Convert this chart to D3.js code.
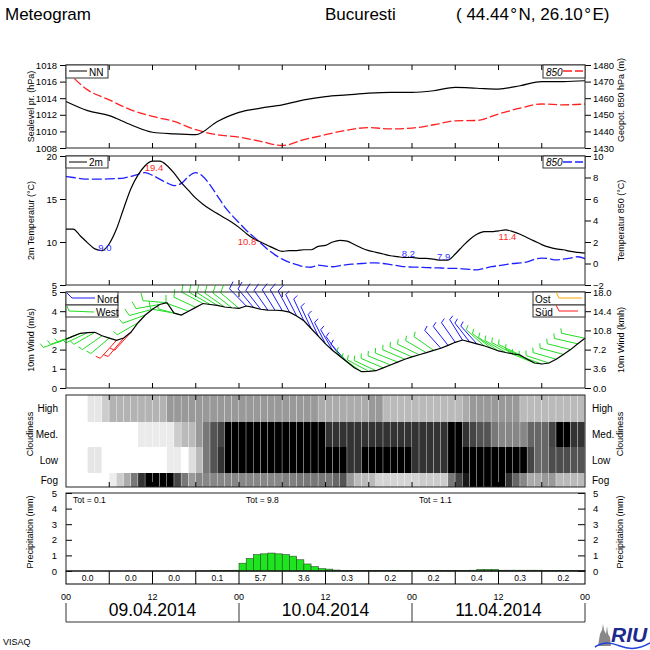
<!DOCTYPE html>
<html><head><meta charset="utf-8">
<script src="https://cdn.jsdelivr.net/npm/d3@7"></script>
<style>
body{margin:0;background:#fff}
svg{display:block}
text{font-family:"Liberation Sans",Arial,Helvetica,sans-serif;fill:#000}
</style>
</head><body>
<svg id="c" width="650" height="650"></svg>
<script>
// ---------------- DATA ----------------
const hours3 = d3.range(0, 73, 3);
const mslp = [1013.6,1012.5,1011.9,1010.8,1009.9,1009.7,1009.6,1011.2,1012.3,1012.8,1013.2,1013.8,1014.2,1014.4,1014.6,1014.7,1014.7,1014.9,1015.3,1015.2,1015.1,1015.5,1016.0,1016.0,1016.1];
const geo850 = [1477,1465,1459,1453,1449,1446,1441,1438,1436.5,1434,1431.5,1435,1438,1440.8,1442.3,1441.5,1442,1444,1446.4,1446.6,1450.5,1454,1456.5,1456,1456.5];

const hours = d3.range(0, 73);
const t2m = [11.5,11.5,10.7,9.9,9.2,9.0,9.8,11.5,13.9,16.2,17.8,18.9,19.4,19.4,18.9,18.0,16.9,16.0,15.1,14.4,13.8,13.3,12.8,12.3,11.7,11.0,10.4,10.0,9.6,9.2,8.9,9.0,9.0,9.1,9.1,9.5,9.6,10.0,10.2,10.1,9.7,9.3,9.0,8.8,8.6,8.4,8.3,8.2,8.2,8.1,8.1,8.0,7.9,7.9,8.6,9.5,10.3,10.9,11.2,11.2,11.3,11.4,11.2,10.9,10.5,10.1,9.7,9.4,9.2,9.1,8.9,8.8,8.7];
const t850 = [8.1,8.0,7.9,7.85,7.85,7.85,7.87,7.9,7.95,8.1,8.3,8.45,8.2,7.85,7.5,7.25,7.45,8.1,8.45,8.1,7.3,6.3,5.3,4.5,3.8,3.1,2.5,1.9,1.3,0.8,0.4,0.1,-0.1,-0.3,-0.35,-0.15,-0.25,-0.3,-0.2,-0.1,-0.05,0.0,0.05,0.05,0.0,-0.1,-0.2,-0.3,-0.33,-0.35,-0.38,-0.4,-0.42,-0.45,-0.45,-0.5,-0.55,-0.6,-0.45,-0.3,-0.2,-0.1,0.0,0.05,0.15,0.4,0.5,0.45,0.33,0.4,0.5,0.63,0.45];

const tLabelHours = [5.4, 12.2, 25.1, 47.5, 52.4, 61.25];
const tLabelValues = [9.0, 19.4, 10.8, 8.2, 7.9, 11.4];
const tLabelKinds = ["min","max","max","min","min","max"];

const windSpeed = [2.54,2.7,2.85,2.88,2.9,2.72,2.6,2.48,2.6,2.9,3.4,3.8,4.1,4.35,4.44,3.9,3.8,4.0,4.2,4.4,4.35,4.3,4.22,4.18,4.15,4.27,4.2,4.1,4.06,4.05,4.03,3.95,3.75,3.5,3.1,2.7,2.3,1.95,1.65,1.35,1.05,0.85,0.87,0.9,1.05,1.2,1.35,1.5,1.62,1.73,1.84,1.96,2.07,2.22,2.38,2.5,2.4,2.3,2.2,2.07,1.93,1.85,1.78,1.72,1.5,1.3,1.25,1.3,1.5,1.75,2.0,2.3,2.59];
const windDir = [250,250,248,245,240,235,230,222,220,222,240,250,255,260,275,280,285,290,295,298,300,302,305,308,310,316,320,322,325,328,330,332,333,335,335,335,333,330,325,318,312,305,298,295,293,292,292,293,294,296,300,305,318,322,325,328,322,318,312,308,304,300,298,296,295,292,290,288,286,285,284,283,282];

const cloudRows = ["High","Med.","Low","Fog"];
const cloudHigh = [0,0,0,0.1,0.1,0.2,0.3,0.3,0.3,0.3,0.3,0.3,0.3,0.3,0.4,0.4,0.4,0.4,0.4,0.4,0.4,0.4,0.4,0.4,0.4,0.4,0.4,0.4,0.4,0.4,0.4,0.4,0.4,0.4,0.4,0.33,0.33,0.33,0.33,0.33,0.33,0.33,0.4,0.4,0.27,0.27,0.27,0.27,0.27,0.27,0.27,0.27,0.27,0.27,0.27,0.33,0.4,0.4,0.4,0.4,0.4,0.4,0.4,0.27,0.27,0.27,0.27,0.27,0.27,0.27,0.27,0.27];
const cloudMed = [0,0,0,0,0,0,0,0,0,0,0.08,0.08,0.08,0.08,0.08,0.2,0.27,0.27,0.4,0.53,0.67,0.73,1,1,1,1,1,1,1,1,1,1,1,1,1,1,0.8,0.8,0.8,0.8,0.8,0.8,0.8,0.8,0.8,0.8,0.8,0.8,0.8,0.8,0.8,0.8,0.8,1,1,0.8,0.73,0.67,0.67,0.53,0.47,0.47,0.47,0.47,0.6,0.6,0.6,0.73,1,1,0.8,0.8];
const cloudLow = [0,0,0,0.1,0.1,0,0,0,0,0,0,0,0,0,0.08,0.08,0,0.13,0.27,0.53,0.67,0.8,1,1,1,1,1,1,1,1,1,1,1,1,1,1,1,1,1,0.8,0.8,1,1,1,1,1,1,1,0.8,0.8,0.8,0.8,0.8,1,1,1,1,1,1,1,1,1,1,1,0.73,0.6,0.6,0.7,0.7,0.7,0.67,0.67];
const cloudFog = [0,0,0,0,0,0,0.07,0.2,0.33,0.53,0.8,1,1,1,1,0.73,0.53,0.4,0.47,0.47,0.47,0.47,0.47,0.47,0.47,0.47,0.47,0.47,0.47,0.47,0.5,0.5,0.53,0.53,0.53,0.53,0.53,0.6,0.67,0.4,0.27,0.27,0.27,0.17,0.17,0.17,0.17,0.17,0.17,0.2,0.2,0.2,0.2,0.53,0.73,0.9,1,1,1,1,1,0.8,0.6,0.47,0.33,0.33,0.4,0.4,0.27,0.27,0.27,0.27];

const precip = [0,0,0,0,0,0,0,0,0,0,0,0,0,0,0,0,0,0,0.01,0.01,0.02,0.02,0.02,0.05,0.5,0.8,1.05,1.1,1.15,1.1,1.05,0.95,0.72,0.45,0.28,0.15,0.12,0.06,0.04,0.03,0.03,0.02,0.03,0.03,0.03,0.03,0.03,0.03,0.03,0.03,0.03,0.03,0.03,0.03,0.02,0.03,0.05,0.1,0.1,0.1,0.05,0.05,0.05,0.05,0.05,0.05,0.03,0.03,0.03,0.03,0.03,0.03];
const sixHourSums = ["0.0","0.0","0.0","0.1","5.7","3.6","0.3","0.2","0.2","0.4","0.3","0.2"];
const dayTotals = ["0.1","9.8","1.1"];
const hourLabels = ["00","12","00","12","00","12","00"];
const dateLabels = ["09.04.2014","10.04.2014","11.04.2014"];

// ---------------- LAYOUT ----------------
const svg = d3.select("#c");
const X0 = 66, X1 = 585;
const x = d3.scaleLinear().domain([0,72]).range([X0, X1]);
const P = {
  pres:{top:65,bot:148}, temp:{top:156,bot:285}, wind:{top:292,bot:388},
  cloud:{top:395,bot:487}, prec:{top:493,bot:571}
};
const FONT = "'Liberation Sans',Arial,sans-serif";
svg.append("rect").attr("width",650).attr("height",650).attr("fill","#fff");

// Title
svg.append("text").attr("x",5).attr("y",20).attr("font-size",17).text("Meteogram");
svg.append("text").attr("x",325).attr("y",20).attr("font-size",17).text("Bucuresti");
svg.append("text").attr("x",456).attr("y",20).attr("font-size",17).text("( 44.44\u200a°\u200aN, 26.10\u200a°\u200aE)");

// ---------- Cloudiness cells (drawn first) ----------
const cloudBands = [[395,422],[422,447],[447,473],[473,487]];
const cloudData = [cloudHigh, cloudMed, cloudLow, cloudFog];
const cellW = x(1)-x(0);
cloudData.forEach((row,ri)=>{
  svg.append("g").selectAll("rect").data(row).join("rect")
    .attr("x",(d,i)=>x(i)).attr("width",cellW-0.4)
    .attr("y",cloudBands[ri][0]).attr("height",cloudBands[ri][1]-cloudBands[ri][0])
    .attr("fill",d=>{const g=Math.round(255*(1-d)); return `rgb(${g},${g},${g})`;});
});

// ---------- scales ----------
const yP = d3.scaleLinear().domain([1008,1018]).range([P.pres.bot,P.pres.top]);
const yG = d3.scaleLinear().domain([1430,1480]).range([P.pres.bot,P.pres.top]);
const yT = d3.scaleLinear().domain([5,20]).range([P.temp.bot,P.temp.top]);
const yT8 = d3.scaleLinear().domain([-2,10]).range([P.temp.bot,P.temp.top]);
const yW = d3.scaleLinear().domain([0,5]).range([P.wind.bot,P.wind.top]);
const yWk = d3.scaleLinear().domain([0,18]).range([P.wind.bot,P.wind.top]);
const yR = d3.scaleLinear().domain([0,5]).range([P.prec.bot,P.prec.top]);

function axisStyle(g){
  g.select(".domain").remove();
  g.selectAll("text").attr("font-size",9.5).attr("font-family",FONT).attr("fill","#000");
  g.selectAll("line").attr("stroke","#000");
}
function leftAxis(scale, vals, fmt, inside){
  const a = d3.axisLeft(scale).tickValues(vals).tickFormat(fmt||d3.format("d"));
  if(inside) a.tickSize(-6).tickPadding(9); else a.tickSize(6).tickPadding(3);
  svg.append("g").attr("transform",`translate(${X0},0)`).call(a).call(axisStyle);
}
function rightAxis(scale, vals, fmt, inside){
  const a = d3.axisRight(scale).tickValues(vals).tickFormat(fmt||d3.format("d"));
  if(inside) a.tickSize(-7).tickPadding(8); else a.tickSize(6).tickPadding(2);
  svg.append("g").attr("transform",`translate(${X1},0)`).call(a).call(axisStyle);
}
leftAxis(yP,[1008,1010,1012,1014,1016,1018]);
rightAxis(yG,[1430,1440,1450,1460,1470,1480]);
leftAxis(yT,[5,10,15,20]);
rightAxis(yT8,[-2,0,2,4,6,8,10]);
leftAxis(yW,[0,1,2,3,4,5]);
rightAxis(yWk,[0,3.6,7.2,10.8,14.4,18],d3.format(".1f"));
leftAxis(yR,[0,1,2,3,4,5],null,true);
rightAxis(yR,[0,1,2,3,4,5],null,true);

// axis titles
function vTitle(txt, cx, cy){
  svg.append("text").attr("transform",`translate(${cx},${cy}) rotate(-90)`)
    .attr("text-anchor","middle").attr("font-size",9).text(txt);
}
vTitle("Sealevel pr. (hPa)",34,(P.pres.top+P.pres.bot)/2);
vTitle("Geopot. 850 hPa (m)",624,100);
vTitle("2m Temperatur (°C)",34,(P.temp.top+P.temp.bot)/2);
vTitle("Temperatur 850 (°C)",624,(P.temp.top+P.temp.bot)/2);
vTitle("10m Wind (m/s)",34,(P.wind.top+P.wind.bot)/2);
vTitle("10m Wind (kmh)",624,(P.wind.top+P.wind.bot)/2);
vTitle("Cloudiness",33,434);
vTitle("Cloudiness",623,434);
vTitle("Precipitation (mm)",33,532);
vTitle("Precipitation (mm)",623,532);

// cloud row labels
const cloudLabelY = [412,438,464,484];
cloudRows.forEach((r,i)=>{
  svg.append("text").attr("x",58).attr("y",cloudLabelY[i]).attr("text-anchor","end").attr("font-size",10).text(r);
  svg.append("text").attr("x",592).attr("y",cloudLabelY[i]).attr("font-size",10).text(r);
});

// ---------- Pressure ----------
svg.append("path").datum(hours3.map((h,i)=>[h,geo850[i]]))
  .attr("d",d3.line().x(d=>x(d[0])).y(d=>yG(d[1])).curve(d3.curveMonotoneX))
  .attr("fill","none").attr("stroke","#ff2020").attr("stroke-width",1.3).attr("stroke-dasharray","9,3");
svg.append("path").datum(hours3.map((h,i)=>[h,mslp[i]]))
  .attr("d",d3.line().x(d=>x(d[0])).y(d=>yP(d[1])).curve(d3.curveMonotoneX))
  .attr("fill","none").attr("stroke","#000").attr("stroke-width",1.2);

// ---------- Temperature ----------
svg.append("path").datum(hours.map((h,i)=>[h,t850[i]]))
  .attr("d",d3.line().x(d=>x(d[0])).y(d=>yT8(d[1])).curve(d3.curveMonotoneX))
  .attr("fill","none").attr("stroke","#2020ff").attr("stroke-width",1.3).attr("stroke-dasharray","10,3");
svg.append("path").datum(hours.map((h,i)=>[h,t2m[i]]))
  .attr("d",d3.line().x(d=>x(d[0])).y(d=>yT(d[1])).curve(d3.curveMonotoneX))
  .attr("fill","none").attr("stroke","#000").attr("stroke-width",1.2);
tLabelHours.forEach((h,i)=>{
  const isMax = tLabelKinds[i]==="max";
  svg.append("text").attr("x",x(h)).attr("y",yT(tLabelValues[i])+(isMax?10:0))
    .attr("text-anchor","middle").attr("font-size",9.5)
    .style("fill",isMax?"#ff2a2a":"#3030ff").text(tLabelValues[i].toFixed(1));
});

// ---------- Wind ----------
const colN="#1a1aff", colW="#22dd22", colS="#ff1a1a", colE="#ffa500";
function barbColor(d){ d=((d%360)+360)%360; if(d>=315||d<45) return colN; if(d<135) return colE; if(d<225) return colS; return colW; }
const barbG = svg.append("g").attr("fill","none").attr("stroke-width",1);
hours.forEach((h,i)=>{
  const v=windSpeed[i], dir=windDir[i]*Math.PI/180;
  const x0=x(h), y0=yW(v);
  const ux=Math.sin(dir), uy=-Math.cos(dir), L=24;
  const x1=x0+L*ux, y1=y0+L*uy;
  const th=Math.atan2(uy,ux)+70*Math.PI/180;
  const fl = v>=3.86?8:5;
  barbG.append("path").attr("stroke",barbColor(windDir[i]))
    .attr("d",`M${x0},${y0}L${x1},${y1}L${x1+fl*Math.cos(th)},${y1+fl*Math.sin(th)}`);
});
svg.append("path").datum(hours.map((h,i)=>[h,windSpeed[i]]))
  .attr("d",d3.line().x(d=>x(d[0])).y(d=>yW(d[1])))
  .attr("fill","none").attr("stroke","#000").attr("stroke-width",1.2);

// ---------- Precipitation ----------
svg.append("g").selectAll("rect").data(precip.map((v,i)=>[i,v]).filter(d=>d[1]>0)).join("rect")
  .attr("x",d=>x(d[0])).attr("width",cellW)
  .attr("y",d=>yR(d[1])).attr("height",d=>yR(0)-yR(d[1]))
  .attr("fill","#1ee61e").attr("stroke","#2a4a2a").attr("stroke-width",0.6);
dayTotals.forEach((t,i)=>{
  svg.append("text").attr("x",x(24*i)+7).attr("y",503).attr("font-size",8.5).text("Tot =  "+t);
});
// sums row
svg.append("rect").attr("x",X0).attr("y",P.prec.bot).attr("width",X1-X0).attr("height",13)
  .attr("fill","none").attr("stroke","#000");
sixHourSums.forEach((s,i)=>{
  if(i>0) svg.append("line").attr("x1",x(6*i)).attr("x2",x(6*i)).attr("y1",P.prec.bot).attr("y2",P.prec.bot+13).attr("stroke","#000");
  svg.append("text").attr("x",x(6*i+3)).attr("y",581).attr("text-anchor","middle").attr("font-size",8.5).text(s);
});

// ---------- Panel frames & time ticks ----------
Object.entries(P).forEach(([k,p])=>{
  svg.append("rect").attr("x",X0).attr("y",p.top).attr("width",X1-X0).attr("height",p.bot-p.top)
    .attr("fill","none").attr("stroke","#222").attr("stroke-width",1);
  if(k!=="prec"){
    d3.range(6,72,6).forEach(h=>{
      svg.append("line").attr("x1",x(h)).attr("x2",x(h)).attr("y1",p.top).attr("y2",p.top+5).attr("stroke","#000");
      svg.append("line").attr("x1",x(h)).attr("x2",x(h)).attr("y1",p.bot).attr("y2",p.bot-5).attr("stroke","#000");
    });
  }
});

// ---------- Legends ----------
function legendBox(x0,y0,w,h){
  svg.append("rect").attr("x",x0).attr("y",y0).attr("width",w).attr("height",h)
    .attr("fill","#fff").attr("stroke","#333").attr("stroke-width",1);
}
legendBox(X0,P.pres.top,42,13);
svg.append("line").attr("x1",69).attr("x2",87).attr("y1",71).attr("y2",71).attr("stroke","#000");
svg.append("text").attr("x",89).attr("y",75.5).attr("font-size",10).text("NN");
legendBox(543,P.pres.top,42,13);
svg.append("text").attr("x",546).attr("y",75.5).attr("font-size",10).attr("font-style","italic").text("850");
svg.append("line").attr("x1",563).attr("x2",583).attr("y1",71).attr("y2",71).attr("stroke","#ff2020").attr("stroke-dasharray","9,3").attr("stroke-width",1.3);

legendBox(X0,P.temp.top,42,12);
svg.append("line").attr("x1",69).attr("x2",87).attr("y1",162).attr("y2",162).attr("stroke","#000");
svg.append("text").attr("x",89).attr("y",166).attr("font-size",10).text("2m");
legendBox(543,P.temp.top,42,12);
svg.append("text").attr("x",546).attr("y",166).attr("font-size",10).attr("font-style","italic").text("850");
svg.append("line").attr("x1",563).attr("x2",583).attr("y1",162).attr("y2",162).attr("stroke","#2020ff").attr("stroke-dasharray","9,3").attr("stroke-width",1.3);

// wind legends
legendBox(X0,P.wind.top,52,13); legendBox(X0,P.wind.top+13,52,12);
svg.append("path").attr("d","M67,293L72,298L95,298").attr("fill","none").attr("stroke",colN);
svg.append("text").attr("x",97).attr("y",302.5).attr("font-size",10).text("Nord");
svg.append("path").attr("d","M67,306L69,311L94,312").attr("fill","none").attr("stroke",colW);
svg.append("text").attr("x",96).attr("y",315.5).attr("font-size",10).text("West");
legendBox(533,P.wind.top,52,13); legendBox(533,P.wind.top+13,52,12);
svg.append("text").attr("x",535).attr("y",302.5).attr("font-size",10).text("Ost");
svg.append("path").attr("d","M556,292L559,298L582,298").attr("fill","none").attr("stroke",colE);
svg.append("text").attr("x",535).attr("y",315.5).attr("font-size",10).text("Süd");
svg.append("path").attr("d","M556,305L559,311L578,311").attr("fill","none").attr("stroke",colS);

// ---------- Time axis ----------
hourLabels.forEach((t,i)=>{
  svg.append("text").attr("x",x(12*i)).attr("y",600).attr("text-anchor","middle").attr("font-size",9).text(t);
});
[0,24,48,72].forEach(h=>{
  svg.append("line").attr("x1",x(h)).attr("x2",x(h)).attr("y1",603).attr("y2",622).attr("stroke","#333");
});
svg.append("line").attr("x1",X0).attr("x2",X1).attr("y1",622).attr("y2",622).attr("stroke","#333");
dateLabels.forEach((d,i)=>{
  svg.append("text").attr("x",x(24*i+12)).attr("y",616).attr("text-anchor","middle").attr("font-size",17.5).text(d);
});

// footer
svg.append("text").attr("x",3).attr("y",645).attr("font-size",9).text("VISAQ");
// RIU logo
const logo = svg.append("g");
logo.append("path").attr("d","M598,646L600,634L602,630L603,624L604,630L606,634L607,626L608,634L610,637L611,646Z").attr("fill","#888");
logo.append("text").attr("x",611).attr("y",642).attr("font-size",21).attr("font-weight","bold").attr("font-style","italic").style("fill","#1c2a8c").text("RIU");
logo.append("path").attr("d","M595,647C605,641 612,643 620,646C630,650 640,649 650,643").attr("fill","none").attr("stroke","#2040e0").attr("stroke-width",1.5);
</script>
</body></html>
